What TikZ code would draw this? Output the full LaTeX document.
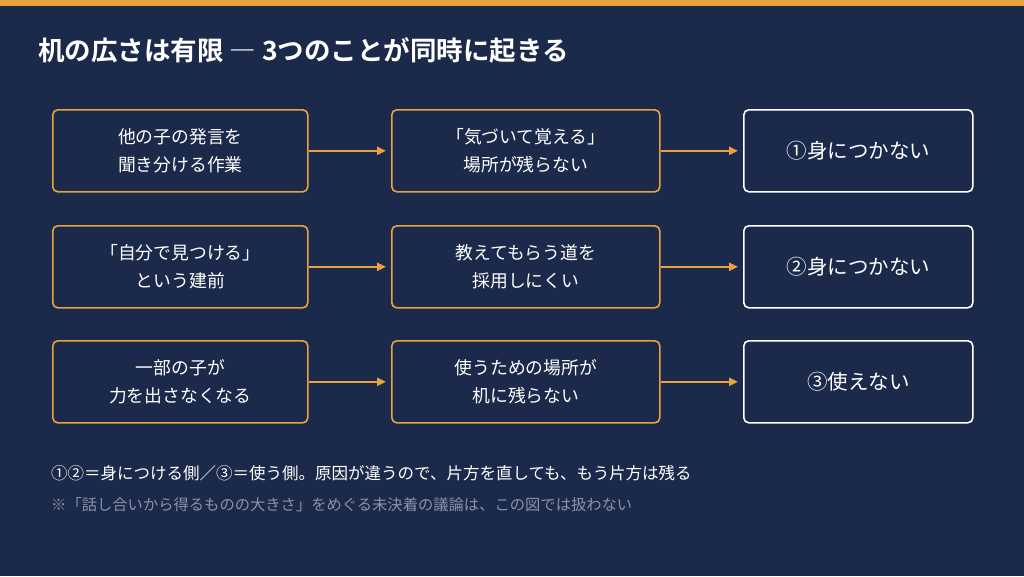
\documentclass[tikz,border=0pt]{standalone}
\usepackage{fontspec}
\setmainfont{Noto Sans CJK JP}
\newfontfamily\cjkbold{Noto Sans CJK JP Bold}
\usetikzlibrary{arrows.meta}
\definecolor{bg}{HTML}{1B2A4A}
\definecolor{acc}{HTML}{E8A33D}
\definecolor{note}{HTML}{8A93A8}
\begin{document}
\begin{tikzpicture}[x=1pt,y=-1pt,
  cause/.style={draw=acc,line width=1.6pt,rounded corners=5pt,minimum width=255pt,minimum height=82pt,align=center,text=white,font=\fontsize{17.8}{28}\selectfont,anchor=north west,inner sep=0pt},
  mid/.style={cause,minimum width=268pt},
  res/.style={draw=white,line width=1.6pt,rounded corners=5pt,minimum width=229pt,minimum height=82pt,align=center,text=white,font=\fontsize{20.5}{24}\selectfont,anchor=north west,inner sep=0pt},
  conn/.style={draw=acc,line width=2.2pt,-{Triangle[length=9pt,width=8pt]},shorten >=5pt}]
\fill[bg] (0,0) rectangle (1024,576);
\useasboundingbox (0,0) rectangle (1024,576);
\fill[acc] (0,0) rectangle (1024,6);
\node[anchor=west,text=white,font=\cjkbold\fontsize{26.5}{30}\selectfont,inner sep=0pt] (title) at (38,50) {机の広さは有限 ― 3つのことが同時に起きる};
% row 1
\node[cause] (a1) at (52,109) {他の子の発言を\\聞き分ける作業};
\node[mid] (b1) at (391,109) {「気づいて覚える」\\場所が残らない};
\node[res] (c1) at (743,109) {①身につかない};
% row 2
\node[cause] (a2) at (52,225) {「自分で見つける」\\という建前};
\node[mid] (b2) at (391,225) {教えてもらう道を\\採用しにくい};
\node[res] (c2) at (743,225) {②身につかない};
% row 3
\node[cause] (a3) at (52,340) {一部の子が\\力を出さなくなる};
\node[mid] (b3) at (391,340) {使うための場所が\\机に残らない};
\node[res] (c3) at (743,340) {③使えない};
\foreach \r in {1,2,3}{
  \draw[conn] (a\r.east) -- (b\r.west);
  \draw[conn] (b\r.east) -- (c\r.west);
}
\node[anchor=west,text=white,font=\fontsize{16.5}{20}\selectfont,inner sep=0pt] (n1) at (51,473) {①②＝身につける側／③＝使う側。原因が違うので、片方を直しても、もう片方は残る};
\node[anchor=west,text=note,font=\fontsize{15.3}{20}\selectfont,inner sep=0pt] (n2) at (51,505) {※「話し合いから得るものの大きさ」をめぐる未決着の議論は、この図では扱わない};
\end{tikzpicture}
\end{document}
